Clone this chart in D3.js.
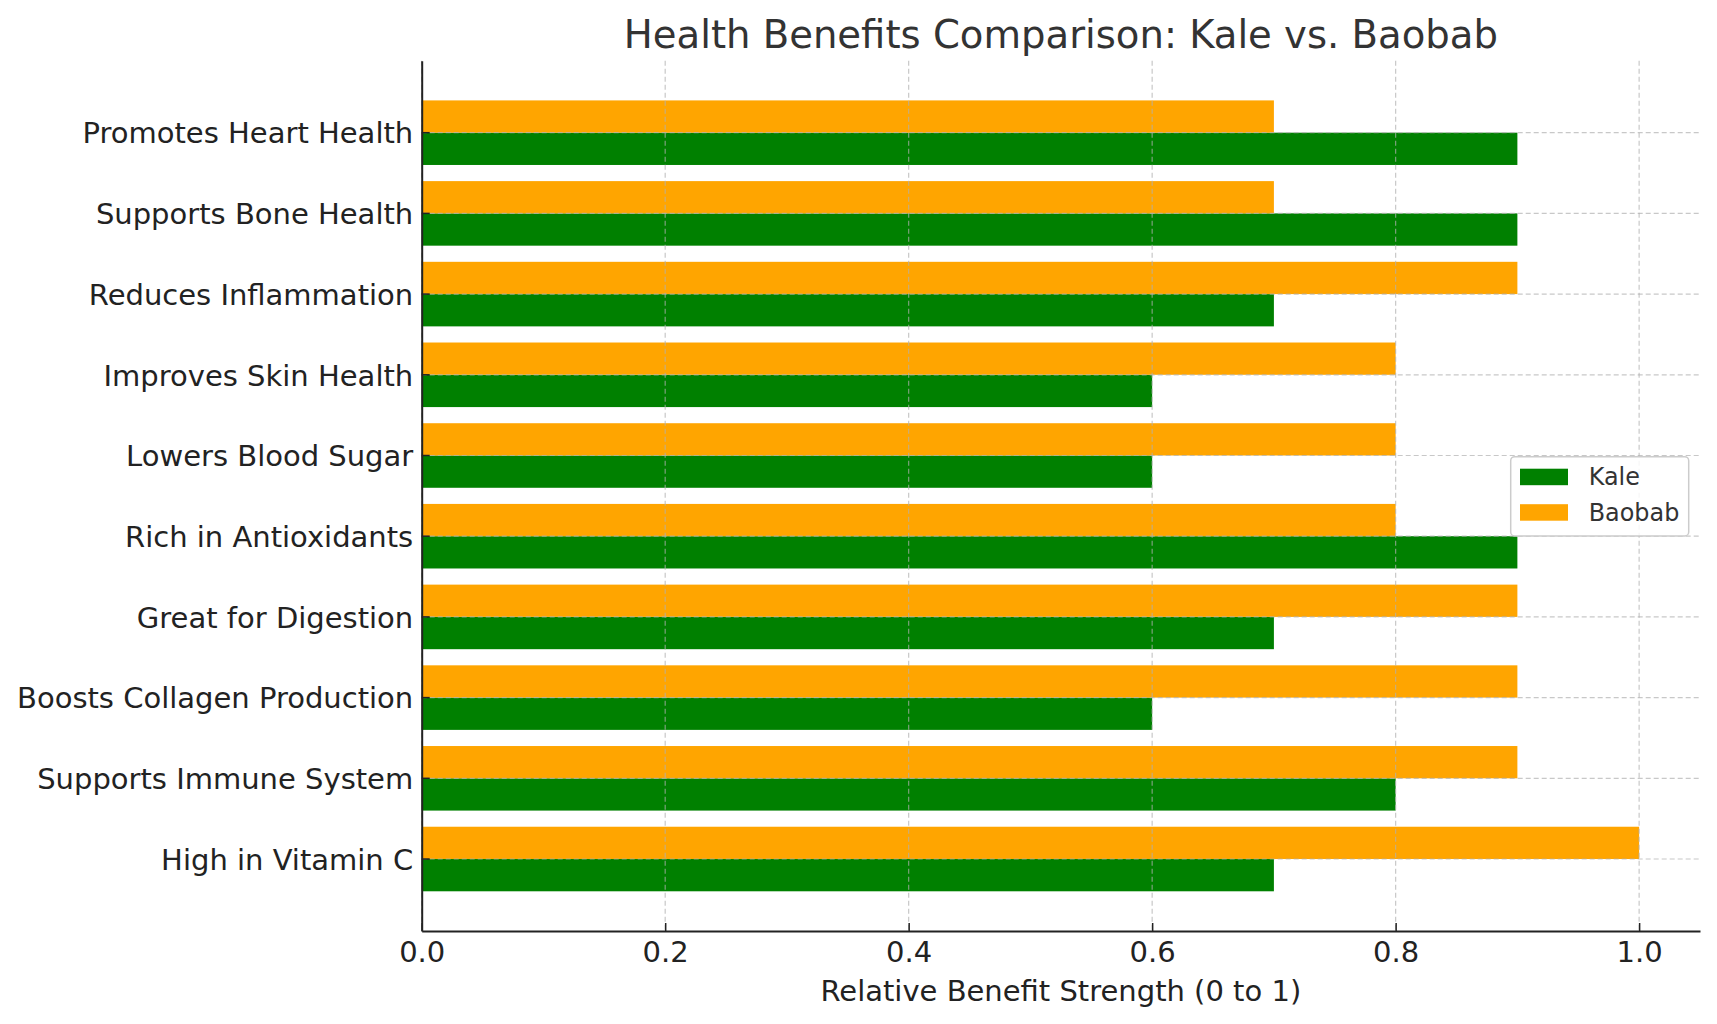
<!DOCTYPE html>
<html>
<head>
<meta charset="utf-8">
<script src="https://cdn.jsdelivr.net/npm/d3@7"></script>
<style>
  html, body { margin: 0; padding: 0; background: #fff; }
  svg { display: block; font-family: "DejaVu Sans", sans-serif; }
</style>
</head>
<body>
<svg id="chart" width="1717" height="1024"></svg>
<script>
// Data (top to bottom as displayed)
const categories = [
  "Promotes Heart Health",
  "Supports Bone Health",
  "Reduces Inflammation",
  "Improves Skin Health",
  "Lowers Blood Sugar",
  "Rich in Antioxidants",
  "Great for Digestion",
  "Boosts Collagen Production",
  "Supports Immune System",
  "High in Vitamin C"
];
const kaleValues   = [0.9, 0.9, 0.7, 0.6, 0.6, 0.9, 0.7, 0.6, 0.8, 0.7];
const baobabValues = [0.7, 0.7, 0.9, 0.8, 0.8, 0.8, 0.9, 0.9, 0.9, 1.0];
const seriesNames = ["Kale", "Baobab"];
const seriesColors = ["#008000", "#FFA500"];
const xTicks = [0.0, 0.2, 0.4, 0.6, 0.8, 1.0];

(function () {
const svg = d3.select("#chart");
const pL = 421.7, pR = 1700, pT = 60.7, pB = 931;

const x = d3.scaleLinear().domain([0, 1.05]).range([pL, pR]);
// first domain entry at bottom
const y = d3.scaleBand()
  .domain(categories.slice().reverse())
  .range([pB, pT])
  .paddingInner(0.2)
  .paddingOuter(0.492);
const ySub = d3.scaleBand().domain(["Baobab", "Kale"]).range([0, y.bandwidth()]);

const rows = categories.map((c, i) => ({cat: c, Kale: kaleValues[i], Baobab: baobabValues[i]}));

// Bars
const g = svg.append("g");
seriesNames.forEach((s, si) => {
  g.selectAll(".bar-" + s).data(rows).enter().append("rect")
    .attr("class", "bar-" + s)
    .attr("x", x(0))
    .attr("y", d => y(d.cat) + ySub(s))
    .attr("width", d => x(d[s]) - x(0))
    .attr("height", ySub.bandwidth())
    .attr("fill", seriesColors[si]);
});

// Grid (on top of bars)
const grid = svg.append("g").attr("stroke", "#b0b0b0").attr("stroke-opacity", 0.7)
  .attr("stroke-width", 1.2).attr("stroke-dasharray", "5,3");
xTicks.forEach(t => {
  grid.append("line").attr("x1", x(t)).attr("x2", x(t)).attr("y1", pT).attr("y2", pB);
});
categories.forEach(c => {
  const cy = y(c) + y.bandwidth() / 2;
  grid.append("line").attr("x1", pL).attr("x2", pR).attr("y1", cy).attr("y2", cy);
});

// Axes (ticks point inward)
const xAxis = svg.append("g").attr("transform", `translate(0,${pB})`)
  .call(d3.axisBottom(x).tickValues(xTicks).tickFormat(d3.format(".1f"))
    .tickSizeInner(-8).tickSizeOuter(0).tickPadding(10));
xAxis.select(".domain").attr("stroke", "#222").attr("stroke-width", 2);
xAxis.selectAll(".tick line").attr("stroke", "#222").attr("stroke-width", 1.5);
xAxis.selectAll(".tick text").attr("font-size", "29px").attr("fill", "#222")
  .attr("font-family", "DejaVu Sans");

const yAxis = svg.append("g").attr("transform", `translate(${pL},0)`)
  .call(d3.axisLeft(y).tickSizeInner(-8).tickSizeOuter(0).tickPadding(8.5));
yAxis.select(".domain").attr("stroke", "#222").attr("stroke-width", 2);
yAxis.selectAll(".tick line").attr("stroke", "#222").attr("stroke-width", 1.5);
yAxis.selectAll(".tick text").attr("font-size", "29px").attr("fill", "#222")
  .attr("font-family", "DejaVu Sans").attr("dy", "0.37em");

// Title
svg.append("text").attr("x", (pL + pR) / 2).attr("y", 48)
  .attr("text-anchor", "middle").attr("font-size", "38.6px").attr("fill", "#333")
  .text("Health Benefits Comparison: Kale vs. Baobab");

// X label
svg.append("text").attr("x", (pL + pR) / 2).attr("y", 1001)
  .attr("text-anchor", "middle").attr("font-size", "29px").attr("fill", "#222")
  .text("Relative Benefit Strength (0 to 1)");

// Legend
const lg = svg.append("g");
lg.append("rect").attr("x", 1510.7).attr("y", 456.7).attr("width", 178).attr("height", 79.3)
  .attr("rx", 4).attr("fill", "#fff").attr("fill-opacity", 0.85)
  .attr("stroke", "#cccccc").attr("stroke-width", 1.5);
seriesNames.forEach((s, i) => {
  const yy = 468.7 + i * 35.5;
  lg.append("rect").attr("x", 1520).attr("y", yy).attr("width", 48).attr("height", 16.5)
    .attr("fill", seriesColors[i]);
  lg.append("text").attr("x", 1588.7).attr("y", yy + 16.5)
    .attr("font-size", "23.9px").attr("fill", "#333").text(s);
});
})();
</script>
</body>
</html>
